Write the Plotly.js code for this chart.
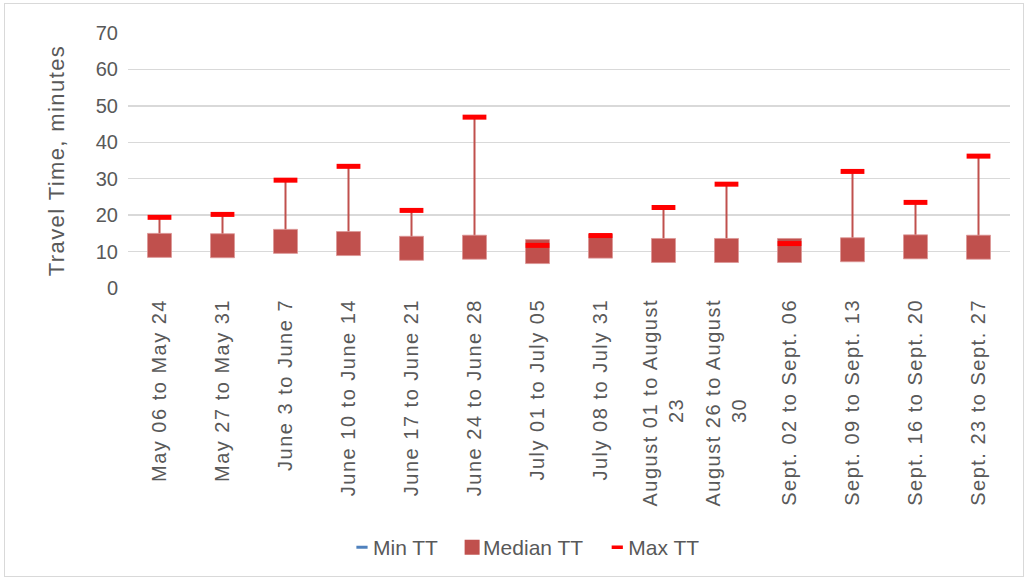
<!DOCTYPE html>
<html>
<head>
<meta charset="utf-8">
<script src="https://cdn.plot.ly/plotly-3.0.1.min.js"></script>
<style>
  html, body { margin: 0; padding: 0; background: #fff; }
  #wrap { position: relative; width: 1029px; height: 582px; }
  #chart { width: 1029px; height: 582px; }
  #frame { position: absolute; left: 4px; top: 3px; width: 1020px; height: 574px;
           border: 1px solid #D9D9D9; pointer-events: none; box-sizing: border-box; }
  .xtick text { letter-spacing: 1.5px; }
  text.ytitle { letter-spacing: 1.4px; }
  .legendtext { letter-spacing: 0px; transform: translateX(-9px); }
</style>
</head>
<body>
<div id="wrap">
  <div id="chart"></div>
  <div id="frame"></div>
</div>
<script>
const NB = "\u00a0".repeat(14);
const categories = [
  "May 06 to May 24", "May 27 to May 31", "June 3 to June 7", "June 10 to June 14",
  "June 17 to June 21", "June 24 to June 28", "July 01 to July 05", "July 08 to July 31",
  "August 01 to August<br>23" + NB,
  "August 26 to August<br>30" + NB,
  "Sept. 02 to Sept. 06", "Sept. 09 to Sept. 13", "Sept. 16 to Sept. 20", "Sept. 23 to Sept. 27"
];
const minTT    = [10.2, 10.1, 11.0, 10.6, 9.6, 9.8, 8.6, 10.0, 9.1, 9.2, 9.0, 9.3, 9.9, 9.8];
const medianTT = [11.7, 11.6, 12.8, 12.2, 10.9, 11.2, 10.0, 11.5, 10.3, 10.3, 10.3, 10.5, 11.3, 11.2];
const maxTT    = [19.4, 20.2, 29.6, 33.4, 21.3, 46.9, 11.7, 14.4, 22.1, 28.5, 12.2, 32.0, 23.5, 36.2];
const yTicks = [0, 10, 20, 30, 40, 50, 60, 70];
const seriesNames = ["Min TT", "Median TT", "Max TT"];

const idx = categories.map((c, i) => i);
// high-low lines built from min/max arrays
const hlX = [], hlY = [];
idx.forEach(i => { hlX.push(i, i, null); hlY.push(minTT[i], maxTT[i], null); });

const FONT = "Liberation Sans, Arial, sans-serif";
const GRAY = "#595959";
const minMarker = { symbol: "line-ew", size: 14, line: { color: "#4F81BD", width: 4 } };
const medMarker = { symbol: "square", size: 24, color: "#C0504D", line: { color: "rgba(220,150,150,0.8)", width: 1 } };
const maxMarker = { symbol: "line-ew", size: 17, line: { color: "#FF0000", width: 5 } };

const traces = [
  { type: "scatter", mode: "lines", x: hlX, y: hlY, showlegend: false, hoverinfo: "skip",
    line: { color: "#C0504D", width: 2 } },
  { type: "scatter", mode: "markers", name: seriesNames[0], x: idx, y: minTT, showlegend: false, marker: minMarker },
  { type: "scatter", mode: "markers", name: seriesNames[1], x: idx, y: medianTT, showlegend: false, marker: medMarker },
  { type: "scatter", mode: "markers", name: seriesNames[2], x: idx, y: maxTT, showlegend: false, marker: maxMarker },
  // legend entries (smaller key symbols, as in the reference)
  { type: "scatter", mode: "markers", name: seriesNames[0], x: [null], y: [null],
    marker: { symbol: "line-ew", size: 8, line: { color: "#4F81BD", width: 3 } } },
  { type: "scatter", mode: "markers", name: seriesNames[1], x: [null], y: [null],
    marker: { symbol: "square", size: 15, color: "#C0504D" } },
  { type: "scatter", mode: "markers", name: seriesNames[2], x: [null], y: [null],
    marker: { symbol: "line-ew", size: 8, line: { color: "#FF0000", width: 3.5 } } }
];

const layout = {
  width: 1029, height: 582,
  margin: { l: 128, r: 19, t: 33, b: 294 },
  paper_bgcolor: "#fff", plot_bgcolor: "#fff",
  font: { family: FONT, color: GRAY },
  showlegend: true,
  legend: { orientation: "h", x: 0.4535, xanchor: "center", y: -1.018, yanchor: "middle",
            font: { size: 21, color: GRAY, family: FONT }, traceorder: "normal" },
  xaxis: {
    range: [-0.5, categories.length - 0.5],
    tickmode: "array", tickvals: idx, ticktext: categories,
    tickangle: -90, tickfont: { size: 20, color: GRAY, family: FONT },
    showgrid: false, zeroline: false, showline: false, ticks: "", ticklabelstandoff: 6, fixedrange: true
  },
  yaxis: {
    range: [0, 70], tickmode: "array", tickvals: yTicks,
    tickfont: { size: 20, color: GRAY, family: FONT },
    showgrid: true, gridcolor: "#D9D9D9", gridwidth: 1.3,
    zeroline: false, showline: false, ticks: "", ticklabelstandoff: 9,
    title: { text: "Travel Time, minutes", font: { size: 22, color: GRAY, family: FONT }, standoff: 25 }
  }
};

Plotly.newPlot("chart", traces, layout, { displayModeBar: false, staticPlot: true });
</script>
</body>
</html>
